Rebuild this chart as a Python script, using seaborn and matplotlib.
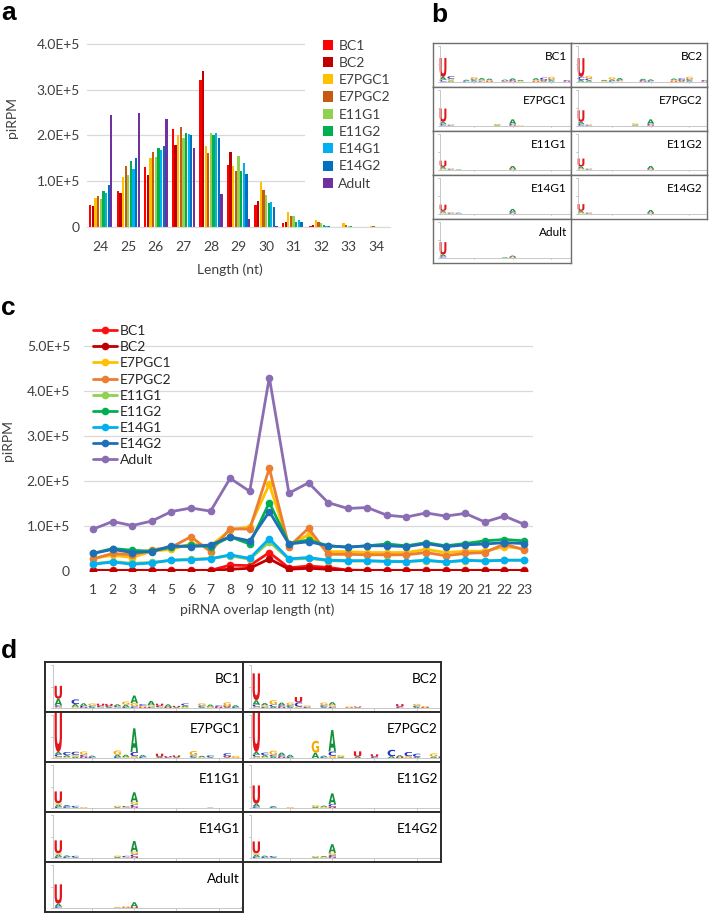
import matplotlib
matplotlib.use("Agg")
import numpy as np
import pandas as pd
import seaborn as sns
import matplotlib.pyplot as plt
from matplotlib import font_manager as fm
from matplotlib.textpath import TextPath
from matplotlib.patches import PathPatch, Rectangle
from matplotlib.font_manager import FontProperties
from matplotlib.transforms import Affine2D
from matplotlib.ticker import FuncFormatter
from matplotlib.lines import Line2D

# ---------------- data ----------------
samples = ["BC1", "BC2", "E7PGC1", "E7PGC2", "E11G1", "E11G2", "E14G1", "E14G2", "Adult"]
lengths = ["24", "25", "26", "27", "28", "29", "30", "31", "32", "33", "34"]

len_BC1 = [48600, 79000, 131000, 215000, 322000, 136000, 48000, 9000, 3000, 1000, 500]
len_BC2 = [45000, 74000, 113000, 180000, 340000, 165000, 57000, 12000, 4000, 1000, 500]
len_E7PGC1 = [63000, 109000, 150000, 200000, 178000, 134000, 98000, 32000, 16000, 8000, 3000]
len_E7PGC2 = [68000, 134000, 163000, 219000, 162000, 122000, 80000, 25000, 12000, 5000, 2000]
len_E11G1 = [62000, 113000, 152000, 195000, 205000, 156000, 70000, 23000, 8000, 3000, 1000]
len_E11G2 = [79000, 144000, 172000, 206000, 200000, 123000, 52000, 12000, 4000, 1500, 500]
len_E14G1 = [75000, 127000, 169000, 204000, 205000, 140000, 54000, 15000, 3000, 1000, 500]
len_E14G2 = [91000, 151000, 177000, 202000, 195000, 116000, 44000, 12000, 3000, 1000, 500]
len_Adult = [245000, 249000, 236000, 173000, 73000, 18000, 2000, 500, 0, 0, 0]

overlap = list(range(1, 24))
ov_BC1 = [1500, 1500, 1500, 1500, 1500, 1500, 1500, 13000, 12000, 41000, 7000, 11000, 8000, 2000,
          1500, 1500, 1500, 1500, 1500, 1500, 1500, 1500, 1500]
ov_BC2 = [1000, 1000, 1000, 1000, 1000, 1000, 1000, 4000, 6000, 27000, 4000, 6000, 4000, 1000,
          1000, 1000, 1000, 1000, 1000, 1000, 1000, 1000, 1000]
ov_E7PGC1 = [28000, 35000, 30000, 44000, 48000, 60000, 56000, 91000, 98000, 193000, 58000, 80000,
             43000, 43000, 41000, 41000, 41000, 48000, 41000, 44000, 44000, 54000, 50000]
ov_E7PGC2 = [27000, 39000, 36000, 47000, 53000, 76000, 43000, 94000, 93000, 228000, 54000, 95000,
             37000, 37000, 36000, 36000, 36000, 41000, 34000, 39000, 41000, 60000, 47000]
ov_E11G1 = [16000, 21000, 17000, 19000, 24000, 26000, 28000, 34000, 26000, 65000, 26000, 28000,
            23000, 22000, 22000, 22000, 21000, 23000, 20000, 23000, 23000, 24000, 24000]
ov_E11G2 = [39000, 50000, 46000, 44000, 53000, 57000, 54000, 76000, 60000, 152000, 61000, 69000,
            56000, 53000, 56000, 60000, 56000, 63000, 56000, 61000, 67000, 70000, 67000]
ov_E14G1 = [15000, 20000, 15000, 18000, 24000, 25000, 27000, 36000, 28000, 72000, 27000, 30000,
            24000, 23000, 23000, 21000, 21000, 24000, 20000, 24000, 22000, 24000, 24000]
ov_E14G2 = [39000, 48000, 41000, 43000, 56000, 54000, 58000, 76000, 67000, 132000, 60000, 65000,
            56000, 53000, 56000, 56000, 54000, 61000, 54000, 58000, 60000, 63000, 61000]
ov_Adult = [93000, 110000, 101000, 111000, 132000, 140000, 133000, 206000, 177000, 430000, 173000,
            196000, 152000, 139000, 141000, 124000, 120000, 129000, 122000, 128000, 109000, 122000, 104000]

# sequence logo stacks: (position, letters bottom->top, heights)
b_BC1 = [(1, "CAU", (.12, .15, 1.07)), (2, "AGC", (.06, .1, .15)), (4, "CA", (.05, .06)),
         (5, "ACG", (.06, .08, .12)), (6, "CGA", (.05, .06, .1)), (7, "UGA", (.04, .05, .08)),
         (9, "CUA", (.03, .04, .05)), (10, "UCA", (.04, .05, .1)), (11, "GA", (.04, .06)),
         (13, "UGA", (.04, .06, .1)), (14, "AUC", (.05, .08, .1)), (15, "ACG", (.06, .08, .14)),
         (17, "UC", (.04, .05))]
b_BC2 = [(1, "ACU", (.1, .18, 1.05)), (2, "ACG", (.08, .1, .15)), (4, "GA", (.04, .06)),
         (5, "CAG", (.05, .08, .12)), (6, "GCA", (.05, .06, .1)), (9, "UCA", (.04, .05, .07)),
         (10, "CA", (.05, .08)), (13, "UGA", (.04, .06, .08)), (14, "AUC", (.05, .06, .08)),
         (15, "ACG", (.06, .08, .14)), (17, "UC", (.04, .05))]
b_E7PGC1 = [(1, "CAU", (.1, .12, .75)), (2, "CG", (.04, .04)), (8, "AG", (.04, .06)),
            (10, "UCA", (.05, .06, .25)), (11, "G", (.03,))]
b_E7PGC2 = [(1, "CAU", (.1, .12, .65)), (2, "CG", (.04, .04)), (8, "AG", (.05, .08)),
            (10, "UCA", (.05, .06, .25))]
b_E11G1 = [(1, "GAU", (.06, .1, .35)), (2, "CG", (.04, .04)), (3, "A", (.03,)), (10, "UA", (.05, .16))]
b_E11G2 = [(1, "GAU", (.06, .12, .45)), (2, "CG", (.04, .04)), (10, "UA", (.05, .16))]
b_E14G1 = [(1, "GAU", (.06, .1, .35)), (2, "CG", (.04, .05)), (3, "CA", (.03, .03)),
           (10, "UCA", (.04, .05, .18))]
b_E14G2 = [(1, "GAU", (.06, .1, .38)), (2, "CG", (.04, .04)), (10, "UA", (.05, .16))]
b_Adult = [(1, "CAU", (.08, .1, .7)), (9, "A", (.04,)), (10, "UA", (.04, .08))]

d_BC1 = [(1, "GCAU", (.05, .08, .3, .6)), (3, "GAC", (.06, .12, .22)), (4, "UCA", (.04, .06, .12)),
         (5, "ACG", (.05, .06, .1)), (6, "GCU", (.04, .06, .1)), (7, "ACU", (.04, .05, .1)),
         (8, "GCA", (.04, .05, .08)), (9, "CAG", (.05, .1, .15)), (10, "CGA", (.08, .15, .35)),
         (11, "UGC", (.04, .06, .08)), (12, "CGA", (.05, .08, .2)), (13, "GCU", (.04, .06, .1)),
         (14, "UA", (.05, .12)), (15, "AU", (.04, .06)), (16, "GAC", (.05, .06, .1)),
         (18, "ACG", (.05, .07, .1)), (19, "GA", (.06, .1)), (20, "UC", (.05, .07)),
         (21, "AUG", (.05, .07, .14)), (22, "CA", (.05, .08))]
d_BC2 = [(1, "GCAU", (.06, .1, .2, 1.25)), (2, "CGA", (.05, .08, .1)), (3, "ACG", (.06, .1, .2)),
         (4, "UCA", (.05, .08, .12)), (5, "ACG", (.05, .08, .12)), (6, "GCU", (.06, .2, .25)),
         (7, "CG", (.05, .07)), (9, "ACG", (.05, .08, .12)), (10, "CGA", (.05, .1, .12)),
         (12, "UG", (.03, .04)), (13, "AU", (.03, .04)), (18, "CU", (.06, .12)),
         (20, "ACG", (.05, .06, .08)), (21, "UG", (.04, .05))]
d_E7PGC1 = [(1, "GCAU", (.06, .12, .1, 2.0)), (2, "GAC", (.05, .08, .15)), (3, "AGC", (.06, .08, .15)),
            (4, "UCG", (.05, .1, .15)), (5, "CA", (.05, .06)), (8, "CAG", (.05, .1, .2)),
            (9, "GA", (.05, .1)), (10, "GCA", (.08, .2, 1.1)), (11, "CA", (.06, .08)),
            (13, "AU", (.05, .15)), (14, "CU", (.04, .05)), (15, "AU", (.04, .08)),
            (17, "ACG", (.05, .07, .2)), (18, "GA", (.04, .06)), (19, "AC", (.04, .08)),
            (21, "AUC", (.04, .06, .12)), (22, "G", (.1,))]
d_E7PGC2 = [(1, "GCAU", (.06, .1, .12, 2.0)), (2, "GAC", (.05, .08, .12)), (3, "ACG", (.06, .08, .2)),
            (4, "UCA", (.05, .08, .12)), (5, "CA", (.05, .1)), (8, "AG", (.25, .55)),
            (9, "CA", (.05, .06)), (10, "GCA", (.1, .2, 1.0)), (11, "AG", (.05, .08)),
            (13, "AU", (.06, .25)), (15, "CU", (.05, .12)), (17, "AC", (.08, .3)),
            (18, "UA", (.05, .08)), (19, "GC", (.08, .2)), (20, "AC", (.05, .15)),
            (22, "AG", (.06, .15)), (23, "C", (.08,))]
d_E11G1 = [(1, "CAGU", (.06, .1, .06, .55)), (2, "CA", (.08, .06)), (3, "AC", (.04, .06)),
           (4, "G", (.04,)), (8, "AG", (.04, .06)), (9, "GC", (.04, .05)),
           (10, "UCGA", (.04, .12, .12, .45)), (19, "A", (.02,))]
d_E11G2 = [(1, "CAU", (.08, .12, .85)), (3, "CA", (.04, .05)), (5, "G", (.04,)),
           (8, "AG", (.05, .08)), (9, "GA", (.05, .06)), (10, "UCA", (.06, .12, .5))]
d_E14G1 = [(1, "CAGU", (.06, .1, .06, .6)), (2, "CA", (.06, .06)), (3, "AC", (.04, .06)),
           (8, "AG", (.05, .06)), (9, "GC", (.04, .06)), (10, "UCGA", (.05, .12, .12, .5))]
d_E14G2 = [(1, "CAGU", (.06, .1, .06, .55)), (2, "CA", (.05, .06)), (3, "AC", (.04, .05)),
           (8, "AG", (.04, .05)), (9, "GA", (.04, .05)), (10, "UCGA", (.04, .1, .1, .4))]
d_Adult = [(1, "CAU", (.08, .12, .9)), (8, "AG", (.02, .03)), (9, "UG", (.03, .05)),
           (10, "UA", (.05, .22)), (23, "G", (.04,))]

pal_a = ["#FF0000", "#C00000", "#FFC000", "#C55A11", "#92D050", "#00B050", "#00B0F0", "#0070C0", "#7030A0"]
pal_c = ["#FF1010", "#C00000", "#FFC000", "#ED7D31", "#92D050", "#00B050", "#00B0F0", "#1F6FB8", "#8B6DB3"]
letter_col = {"A": "#12913A", "C": "#2230CC", "G": "#F5A800", "U": "#E3161D"}

# ---------------- style ----------------
sns.set_style("white")
names = {f.name for f in fm.fontManager.ttflist}
MAIN = "Lato" if "Lato" in names else "DejaVu Sans"
BOLD = "Liberation Sans" if "Liberation Sans" in names else "DejaVu Sans"
plt.rcParams["font.family"] = [MAIN, "DejaVu Sans"]

W, H = 709, 913
fig = plt.figure(figsize=(W / 100, H / 100), dpi=100)
TXT = "#404040"


def rect(x0, y0, x1, y1):
    return [x0 / W, 1 - y1 / H, (x1 - x0) / W, (y1 - y0) / H]


def sci(v, _):
    if v == 0:
        return "0"
    e = int(np.floor(np.log10(v) + 1e-9))
    return f"{v / 10 ** e:.1f}E+{e}"


# ---------------- panel a ----------------
dfa = pd.DataFrame({
    "length": lengths * len(samples),
    "sample": np.repeat(samples, len(lengths)),
    "value": len_BC1 + len_BC2 + len_E7PGC1 + len_E7PGC2 + len_E11G1 + len_E11G2
             + len_E14G1 + len_E14G2 + len_Adult,
})
ax_a = fig.add_axes(rect(87, 39.4, 390, 227))
sns.barplot(data=dfa, x="length", y="value", hue="sample", hue_order=samples, palette=pal_a,
            width=0.86, gap=0.15, saturation=1, errorbar=None, legend=False, linewidth=0, ax=ax_a)
ax_a.set_xlim(-0.5, 10.5)
ax_a.set_ylim(0, 4.1e5)
ax_a.set_yticks([0, 1e5, 2e5, 3e5, 4e5])
ax_a.yaxis.set_major_formatter(FuncFormatter(sci))
ax_a.yaxis.grid(True, color="#D9D9D9", lw=0.9)
ax_a.set_axisbelow(True)
for s in ["left", "top", "right"]:
    ax_a.spines[s].set_visible(False)
ax_a.spines["bottom"].set_color("#D9D9D9")
ax_a.tick_params(axis="both", length=0, labelsize=10, colors=TXT)
ax_a.tick_params(axis="x", pad=10)
ax_a.tick_params(axis="y", pad=5)
ax_a.set_xlabel("")
ax_a.set_ylabel("")
fig.text(12 / W, 1 - 118 / H, "piRPM", rotation=90, ha="center", va="center", fontsize=10, color=TXT)
fig.text(230 / W, 1 - 270 / H, "Length (nt)", ha="center", va="center", fontsize=10, color=TXT)
hand_a = [Rectangle((0, 0), 1, 1, fc=c, ec="none") for c in pal_a]
fig.legend(hand_a, samples, loc="upper left", bbox_to_anchor=(305 / W, 1 - 21.5 / H),
           bbox_transform=fig.transFigure, frameon=True, facecolor="white", edgecolor="none",
           framealpha=1, fancybox=False, prop={"family": MAIN, "size": 10}, labelcolor=TXT,
           handlelength=0.75, handleheight=0.75, handletextpad=0.35, labelspacing=0.38,
           borderpad=1.3, borderaxespad=0)

# ---------------- panel c ----------------
dfc = pd.DataFrame({
    "overlap": overlap * len(samples),
    "sample": np.repeat(samples, len(overlap)),
    "value": ov_BC1 + ov_BC2 + ov_E7PGC1 + ov_E7PGC2 + ov_E11G1 + ov_E11G2
             + ov_E14G1 + ov_E14G2 + ov_Adult,
})
ax_c = fig.add_axes(rect(84, 341.5, 533, 571))
sns.lineplot(data=dfc, x="overlap", y="value", hue="sample", hue_order=samples, palette=pal_c,
             marker="o", markersize=5.5, markeredgewidth=0, linewidth=2.0, legend=False, ax=ax_c)
ax_c.set_xlim(0.54, 23.46)
ax_c.set_ylim(0, 5.1e5)
ax_c.set_xticks(overlap)
ax_c.set_yticks([0, 1e5, 2e5, 3e5, 4e5, 5e5])
ax_c.yaxis.set_major_formatter(FuncFormatter(sci))
ax_c.yaxis.grid(True, color="#D9D9D9", lw=0.9)
ax_c.set_axisbelow(True)
for s in ["left", "top", "right", "bottom"]:
    ax_c.spines[s].set_visible(False)
ax_c.tick_params(axis="both", length=0, labelsize=10, colors=TXT)
ax_c.tick_params(axis="x", pad=9)
ax_c.tick_params(axis="y", pad=10)
ax_c.set_xlabel("")
ax_c.set_ylabel("")
fig.text(8 / W, 1 - 440 / H, "piRPM", rotation=90, ha="center", va="center", fontsize=10, color=TXT)
fig.text(257 / W, 1 - 610 / H, "piRNA overlap length (nt)", ha="center", va="center",
         fontsize=10, color=TXT)
hand_c = [Line2D([], [], color=c, lw=2.0, marker="o", markersize=5.5, markeredgewidth=0) for c in pal_c]
fig.legend(hand_c, samples, loc="upper left", bbox_to_anchor=(92.5 / W, 1 - 325 / H),
           bbox_transform=fig.transFigure, frameon=False, prop={"family": MAIN, "size": 10},
           labelcolor="#262626", handlelength=1.75, handletextpad=0.2, labelspacing=0.3,
           borderpad=0, borderaxespad=0)

# ---------------- logos (panels b and d) ----------------
fp_logo = FontProperties(family="DejaVu Sans", weight="bold")
glyphs = {ch: TextPath((0, 0), ch, size=1, prop=fp_logo) for ch in "ACGU"}


def draw_letter(ax, ch, xc, y0, h, w=0.88):
    tp = glyphs[ch]
    bb = tp.get_extents()
    tr = (Affine2D().translate(-bb.x0, -bb.y0)
          .scale(w / bb.width, h / bb.height).translate(xc - w / 2, y0))
    ax.add_patch(PathPatch(tr.transform_path(tp), facecolor=letter_col[ch], edgecolor="none", lw=0))


def logo_cell(px, name, stacks, spacing, first_px, axis_px, base_px, top_px,
              title_size, title_right, title_base, edge, elw):
    x0, y0, x1, y1 = px
    ax = fig.add_axes(rect(x0, y0, x1, y1))
    wpx, hpx = x1 - x0, y1 - y0
    xmin = 1 - first_px / spacing
    ax.set_xlim(xmin, xmin + wpx / spacing)
    unit = (hpx - base_px - top_px) / 2.0
    ax.set_ylim(-base_px / unit, 2 + top_px / unit)
    ax.set_xticks([])
    ax.set_yticks([])
    for s in ax.spines.values():
        s.set_color(edge)
        s.set_linewidth(elw)
    xa = xmin + axis_px / spacing
    ax.plot([xa, xa], [0, 2], color="#BFBFBF", lw=0.6)
    ax.plot([xa, xmin + wpx / spacing], [0, 0], color="#BFBFBF", lw=0.6)
    for yy in (0, 1, 2):
        ax.plot([xa - 0.25, xa], [yy, yy], color="#BFBFBF", lw=0.6)
    for xx in (5, 10, 15, 20):
        ax.plot([xx, xx], [0, -0.07], color="#BFBFBF", lw=0.6)
    for pos, letters, hts in stacks:
        y = 0.0
        for ch, h in zip(letters, hts):
            draw_letter(ax, ch, pos, y, h)
            y += h
    ax.text(1 - title_right / wpx, 1 - title_base / hpx, name, transform=ax.transAxes,
            ha="right", va="baseline", fontsize=title_size, color="black")
    return ax


b_data = [b_BC1, b_BC2, b_E7PGC1, b_E7PGC2, b_E11G1, b_E11G2, b_E14G1, b_E14G2, b_Adult]
d_data = [d_BC1, d_BC2, d_E7PGC1, d_E7PGC2, d_E11G1, d_E11G2, d_E14G1, d_E14G2, d_Adult]

# panel b grid
b_cols = [(433, 571), (571, 707)]
b_top, b_rh = 43.3, 44.0
for i, (nm, st) in enumerate(zip(samples, b_data)):
    r, c = divmod(i, 2)
    xa0, xa1 = b_cols[c]
    ya0 = b_top + r * b_rh
    logo_cell((xa0, ya0, xa1, ya0 + b_rh), nm, st, spacing=7.74, first_px=10, axis_px=7,
              base_px=5.6, top_px=3, title_size=8.5, title_right=4,
              title_base=17.0, edge="#6E6E6E", elw=1.0)

# panel d grid
d_cols = [(45, 243), (243, 441)]
d_top, d_rh = 662.0, 50.0
for i, (nm, st) in enumerate(zip(samples, d_data)):
    r, c = divmod(i, 2)
    xa0, xa1 = d_cols[c]
    ya0 = d_top + r * d_rh
    logo_cell((xa0, ya0, xa1, ya0 + d_rh), nm, st, spacing=8.44, first_px=13.3, axis_px=8.3,
              base_px=4.0, top_px=3, title_size=9.8, title_right=3,
              title_base=20.7, edge="#2B2B2B", elw=1.4)

# ---------------- panel letters ----------------
for lab, x, yb in [("a", 1, 20), ("b", 431, 21.7), ("c", 1, 315), ("d", 1, 658)]:
    fig.text(x / W, 1 - yb / H, lab, ha="left", va="baseline", fontsize=19,
             fontweight="bold", family=BOLD, color="black")

fig.savefig("out.png", dpi=100)
